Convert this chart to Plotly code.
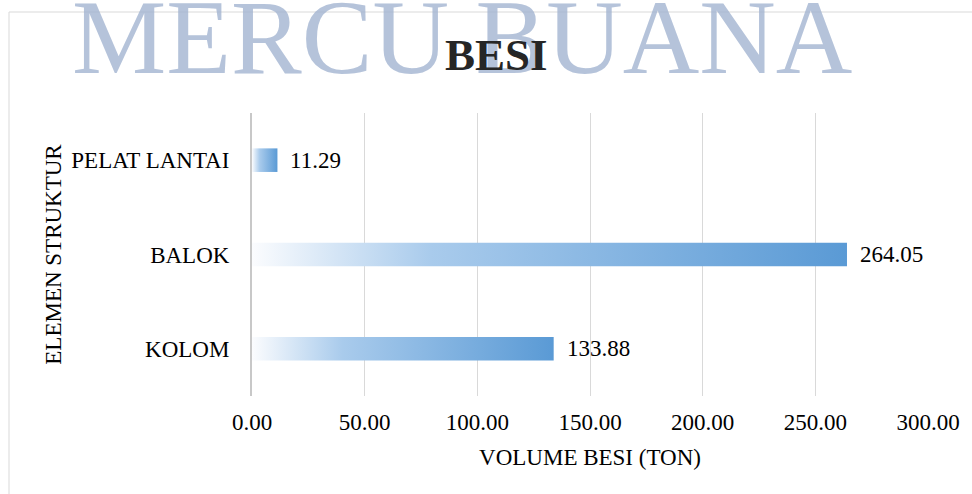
import plotly.graph_objects as go

# ---- data ----
categories = ["KOLOM", "BALOK", "PELAT LANTAI"]
volumes = [133.88, 264.05, 11.29]
x_ticks = [0, 50, 100, 150, 200, 250, 300]
x_tick_labels = [f"{v:.2f}" for v in x_ticks]
chart_title = "BESI"
x_title = "VOLUME BESI (TON)"
y_title = "ELEMEN STRUKTUR"
watermark = "MERCU BUANA"

# ---- layout geometry (pixels; page body margin removed) ----
W, H = 972, 494
ML, MR, MT, MB = 252, 972 - 928, 113, 494 - 396
PW, PH = W - ML - MR, H - MT - MB


def px_x(px):  # page pixel -> paper x
    return (px - ML) / PW


def px_y(py):  # page pixel -> paper y
    return (H - MB - py) / PH


FONT = "Liberation Serif, Times New Roman, serif"
FS = 23
half = 0.125  # half bar thickness in category units (gap width 300%)
grad = [[0.0, "#FBFCFE"], [0.3, "#A9CBEC"], [1.0, "#5A9AD5"]]

fig = go.Figure()
for i, (cat, v) in enumerate(zip(categories, volumes)):
    fig.add_trace(go.Scatter(
        x=[0, v, v, 0, 0],
        y=[i - half, i - half, i + half, i + half, i - half],
        mode="lines",
        fill="toself",
        fillgradient=dict(type="horizontal", colorscale=grad),
        line=dict(width=0),
        name=cat,
        hoverinfo="text",
        text=f"{cat}: {v:.2f}",
        showlegend=False,
    ))

annotations = []
for i, v in enumerate(volumes):
    annotations.append(dict(
        x=v, y=i, xref="x", yref="y", text=f"{v:.2f}",
        showarrow=False, xanchor="left", yanchor="middle", xshift=11,
        font=dict(family=FONT, size=FS, color="#000000"),
    ))

# watermark (drawn first, so the chart title sits above it)
annotations.append(dict(
    x=px_x(462), y=px_y(37), xref="paper", yref="paper", text=watermark,
    showarrow=False, xanchor="center", yanchor="middle",
    font=dict(family=FONT, size=106, color="rgba(160,178,208,0.78)"),
))
# chart title
annotations.append(dict(
    x=px_x(496), y=px_y(55), xref="paper", yref="paper",
    text=f"<b>{chart_title}</b>",
    showarrow=False, xanchor="center", yanchor="middle",
    font=dict(family=FONT, size=45, color="#262626"),
))

shapes = [
    dict(type="line", xref="paper", yref="paper",
         x0=px_x(9), y0=px_y(12), x1=px_x(980), y1=px_y(12),
         line=dict(color="#D9D9D9", width=1), layer="below"),
    dict(type="line", xref="paper", yref="paper",
         x0=px_x(9), y0=px_y(12), x1=px_x(9), y1=px_y(500),
         line=dict(color="#D9D9D9", width=1), layer="below"),
]

fig.update_layout(
    width=W, height=H,
    margin=dict(l=ML, r=MR, t=MT, b=MB),
    paper_bgcolor="white", plot_bgcolor="white",
    xaxis=dict(range=[0, 300], tickvals=x_ticks, ticktext=x_tick_labels,
               showgrid=True, gridcolor="#D9D9D9", gridwidth=1,
               zeroline=False, showline=False, ticks="",
               ticklabelstandoff=10,
               tickfont=dict(family=FONT, size=FS, color="#000000"),
               title=dict(text=x_title, standoff=14,
                          font=dict(family=FONT, size=FS, color="#000000"))),
    yaxis=dict(range=[-0.5, 2.5], tickvals=list(range(len(categories))),
               ticktext=categories, showgrid=False, zeroline=False,
               showline=True, linecolor="#C8C8C8", linewidth=2,
               ticks="", ticklabelstandoff=16,
               tickfont=dict(family=FONT, size=FS, color="#000000"),
               title=dict(text=y_title, standoff=3,
                          font=dict(family=FONT, size=FS, color="#000000"))),
    annotations=annotations,
    shapes=shapes,
    showlegend=False,
)

fig.write_html(
    "out.html",
    config={"displayModeBar": False},
    post_script="document.body.style.margin='0';document.body.style.overflow='hidden';",
)
